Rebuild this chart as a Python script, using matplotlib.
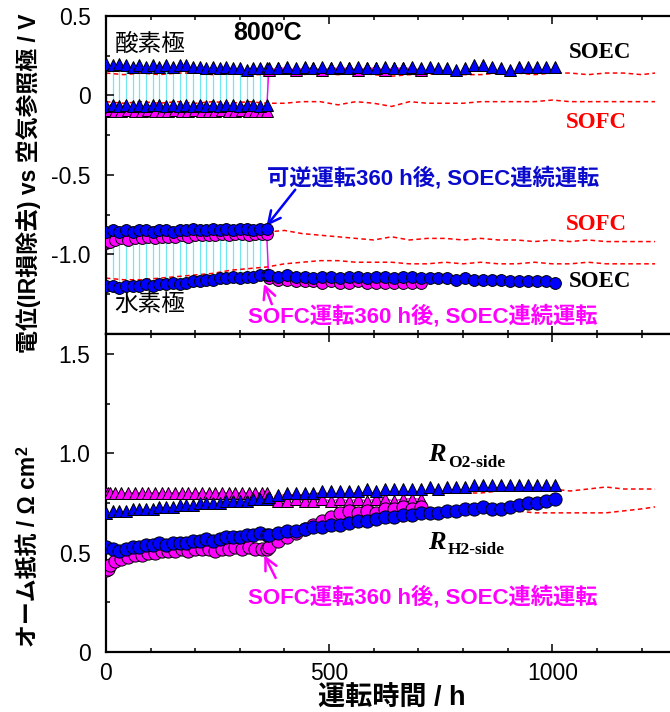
import matplotlib
matplotlib.use("Agg")
import matplotlib.pyplot as plt
from matplotlib.transforms import offset_copy

# ---- data ----
# reversible operation (SOEC/SOFC alternating), 0-360 h
t_rev = [0, 15, 30, 45, 60, 75, 90, 105, 120, 135, 150, 165, 180, 195, 210,
         225, 240, 255, 270, 285, 300, 315, 330, 345, 360]
rev_o2_ec = [0.20, 0.19, 0.20, 0.19, 0.18, 0.19, 0.18, 0.19, 0.18, 0.19, 0.18, 0.19, 0.19,
             0.18, 0.18, 0.17, 0.18, 0.17, 0.18, 0.17, 0.17, 0.16, 0.17, 0.17, 0.17]
rev_o2_fc = [-0.07, -0.06, -0.07, -0.06, -0.07, -0.06, -0.07, -0.06, -0.06, -0.07, -0.06, -0.07, -0.06,
             -0.07, -0.06, -0.07, -0.06, -0.07, -0.06, -0.06, -0.07, -0.06, -0.06, -0.07, -0.06]
rev_h2_fc = [-0.86, -0.85, -0.86, -0.85, -0.86, -0.85, -0.85, -0.86, -0.85, -0.85, -0.86, -0.85, -0.85,
             -0.84, -0.85, -0.85, -0.84, -0.85, -0.84, -0.85, -0.84, -0.84, -0.85, -0.84, -0.84]
rev_h2_ec = [-1.20, -1.20, -1.21, -1.20, -1.20, -1.20, -1.19, -1.20, -1.19, -1.19, -1.18, -1.19, -1.18,
             -1.17, -1.17, -1.16, -1.16, -1.15, -1.15, -1.14, -1.15, -1.14, -1.14, -1.13, -1.13]
rev_r_o2 = [0.70, 0.71, 0.71, 0.71, 0.72, 0.72, 0.72, 0.72, 0.73, 0.73, 0.73, 0.74, 0.74,
            0.74, 0.75, 0.75, 0.75, 0.75, 0.76, 0.76, 0.76, 0.76, 0.77, 0.77, 0.77]
rev_r_h2 = [0.53, 0.52, 0.51, 0.52, 0.53, 0.53, 0.54, 0.54, 0.55, 0.54, 0.55, 0.55, 0.55,
            0.56, 0.56, 0.57, 0.56, 0.57, 0.58, 0.58, 0.58, 0.59, 0.59, 0.60, 0.59]

# continuous SOEC after reversible operation, 365-1005 h
t_cont = [365, 385, 405, 425, 445, 465, 485, 505, 525, 545, 565, 585, 605, 625, 645, 665, 685,
          705, 725, 745, 765, 785, 805, 825, 845, 865, 885, 905, 925, 945, 965, 985, 1005]
cont_o2 = [0.17, 0.17, 0.18, 0.17, 0.18, 0.17, 0.18, 0.17, 0.18, 0.17, 0.18, 0.17, 0.17, 0.18, 0.17, 0.17, 0.18,
           0.17, 0.18, 0.17, 0.17, 0.16, 0.17, 0.19, 0.19, 0.18, 0.17, 0.16, 0.18, 0.18, 0.18, 0.18, 0.18]
cont_h2 = [-1.13, -1.14, -1.13, -1.14, -1.14, -1.15, -1.14, -1.14, -1.15, -1.14, -1.14, -1.15, -1.14, -1.14,
           -1.15, -1.14, -1.14, -1.15, -1.15, -1.15, -1.15, -1.16, -1.15, -1.16, -1.16, -1.16, -1.16, -1.17,
           -1.17, -1.17, -1.17, -1.17, -1.18]
cont_r_o2 = [0.78, 0.79, 0.80, 0.80, 0.80, 0.80, 0.81, 0.81, 0.81, 0.81, 0.81, 0.82, 0.81, 0.82, 0.82, 0.82, 0.82,
             0.82, 0.83, 0.82, 0.83, 0.83, 0.83, 0.84, 0.84, 0.84, 0.84, 0.84, 0.84, 0.84, 0.84, 0.84, 0.84]
cont_r_h2 = [0.59, 0.60, 0.61, 0.61, 0.62, 0.63, 0.63, 0.64, 0.64, 0.65, 0.66, 0.66, 0.67, 0.68, 0.68, 0.69, 0.69,
             0.70, 0.70, 0.70, 0.71, 0.71, 0.72, 0.72, 0.73, 0.72, 0.72, 0.73, 0.74, 0.75, 0.75, 0.76, 0.77]

# SOFC 360 h, then SOEC continuous
t_fc = [0, 5, 10, 20, 35, 50, 65, 80, 95, 110, 125, 140, 155, 170, 185, 200, 215, 230, 245,
        260, 275, 290, 305, 320, 335, 350, 360]
fc_o2 = [-0.10, -0.10, -0.09, -0.10, -0.10, -0.09, -0.10, -0.10, -0.09, -0.10, -0.10, -0.10, -0.09, -0.10,
         -0.10, -0.09, -0.10, -0.10, -0.10, -0.09, -0.10, -0.10, -0.09, -0.10, -0.10, -0.10, -0.10]
fc_h2 = [-0.93, -0.92, -0.92, -0.91, -0.90, -0.91, -0.90, -0.90, -0.89, -0.90, -0.89, -0.89, -0.89, -0.88,
         -0.89, -0.88, -0.88, -0.88, -0.88, -0.87, -0.88, -0.87, -0.87, -0.88, -0.87, -0.87, -0.87]
fc_r_o2 = [0.80, 0.80, 0.80, 0.80, 0.80, 0.80, 0.80, 0.80, 0.80, 0.80, 0.80, 0.80, 0.80, 0.80,
           0.80, 0.80, 0.80, 0.80, 0.80, 0.80, 0.80, 0.80, 0.80, 0.80, 0.80, 0.80, 0.80]
fc_r_h2 = [0.41, 0.42, 0.44, 0.46, 0.47, 0.48, 0.49, 0.49, 0.50, 0.50, 0.51, 0.51, 0.51, 0.52,
           0.51, 0.52, 0.52, 0.52, 0.51, 0.52, 0.52, 0.53, 0.52, 0.53, 0.52, 0.52, 0.52]
t_ec = [365, 385, 405, 425, 445, 465, 485, 505, 525, 545, 565, 585, 605, 625, 645, 665, 685, 705]
ec_o2 = [0.16, 0.17, 0.17, 0.16, 0.17, 0.17, 0.16, 0.17, 0.17, 0.17, 0.16, 0.17, 0.17, 0.16, 0.17, 0.17, 0.17, 0.16]
ec_h2 = [-1.15, -1.16, -1.16, -1.17, -1.17, -1.17, -1.18, -1.17, -1.18, -1.18, -1.17, -1.18, -1.18, -1.18,
         -1.18, -1.18, -1.18, -1.18]
ec_r_o2 = [0.77, 0.76, 0.76, 0.77, 0.76, 0.76, 0.77, 0.76, 0.77, 0.76, 0.77, 0.76, 0.77, 0.77, 0.76, 0.77, 0.77, 0.77]
ec_r_h2 = [0.53, 0.56, 0.58, 0.60, 0.62, 0.64, 0.66, 0.68, 0.70, 0.71, 0.70, 0.71, 0.70, 0.72, 0.72, 0.73, 0.72, 0.73]

# reference cell (red dashed)
ref_t = [0, 40, 80, 120, 160, 200, 240, 280, 320, 360, 400, 440, 480, 520, 560, 600, 640, 680, 720, 760,
         800, 840, 880, 920, 960, 1000, 1040, 1080, 1120, 1160, 1200, 1230]
ref_o2_ec = [0.14, 0.13, 0.14, 0.13, 0.14, 0.14, 0.13, 0.14, 0.13, 0.13, 0.14, 0.13, 0.14, 0.13, 0.14, 0.13,
             0.12, 0.13, 0.13, 0.14, 0.13, 0.13, 0.14, 0.14, 0.13, 0.14, 0.14, 0.13, 0.14, 0.14, 0.13, 0.14]
ref_o2_fc = [-0.04, -0.05, -0.04, -0.05, -0.04, -0.05, -0.04, -0.05, -0.04, -0.05, -0.05, -0.04, -0.04, -0.06,
             -0.04, -0.05, -0.07, -0.04, -0.05, -0.05, -0.05, -0.04, -0.04, -0.04, -0.04, -0.03, -0.04, -0.04,
             -0.04, -0.04, -0.04, -0.04]
ref_h2_ec = [-1.15, -1.16, -1.16, -1.15, -1.14, -1.13, -1.12, -1.10, -1.09, -1.08, -1.06, -1.05, -1.04, -1.04,
             -1.05, -1.05, -1.05, -1.06, -1.06, -1.05, -1.06, -1.05, -1.06, -1.06, -1.05, -1.06, -1.06, -1.05,
             -1.06, -1.06, -1.06, -1.06]
ref_t2 = [360, 400, 440, 480, 520, 560, 600, 640, 680, 720, 760, 800, 840, 880, 920, 960, 1000, 1040,
          1080, 1120, 1160, 1200, 1230]
ref_h2_fc = [-0.86, -0.85, -0.87, -0.88, -0.89, -0.90, -0.91, -0.89, -0.91, -0.90, -0.90, -0.91, -0.90,
             -0.91, -0.91, -0.92, -0.91, -0.92, -0.91, -0.92, -0.92, -0.92, -0.92]
ref_r_o2 = [0.78, 0.79, 0.79, 0.80, 0.80, 0.80, 0.80, 0.79, 0.80, 0.80, 0.80, 0.80, 0.80, 0.81, 0.81, 0.82,
            0.82, 0.81, 0.82, 0.83, 0.82, 0.82, 0.82]
ref_r_h2 = [0.60, 0.61, 0.62, 0.62, 0.63, 0.64, 0.65, 0.65, 0.66, 0.69, 0.70, 0.71, 0.71, 0.71, 0.71, 0.70,
            0.70, 0.70, 0.70, 0.70, 0.71, 0.72, 0.73]

# ---- styles ----
blue = "#0000ff"
magenta = "#ff00ff"
red = "#ff0000"
cyan = "#70e8f0"
jp = ["Liberation Sans", "Noto Sans CJK JP"]
serif = "Liberation Serif"

plt.rcParams["font.family"] = "Liberation Sans"
plt.rcParams["font.size"] = 16

fig = plt.figure(figsize=(6.7, 7.12), dpi=100)
ax1 = fig.add_axes([0.158, 0.5312, 0.853, 0.4466])
ax2 = fig.add_axes([0.158, 0.0843, 0.853, 0.4466])

tri = dict(marker="^", markersize=8.5, markeredgecolor="black", markeredgewidth=0.7, linestyle="none")
cir = dict(marker="o", markersize=8.5, markeredgecolor="black", markeredgewidth=0.7, linestyle="none")
dash = dict(color=red, linestyle=(0, (3, 2.2)), linewidth=1.1, zorder=2)

# ---- top: electrode potentials ----
ax1.vlines(t_rev, rev_o2_fc, rev_o2_ec, color=cyan, linewidth=0.9, zorder=1)
ax1.vlines(t_rev, rev_h2_ec, rev_h2_fc, color=cyan, linewidth=0.9, zorder=1)
ax1.plot(ref_t, ref_o2_ec, **dash)
ax1.plot(ref_t, ref_o2_fc, **dash)
ax1.plot(ref_t, ref_h2_ec, **dash)
ax1.plot(ref_t2, ref_h2_fc, **dash)

ax1.plot(t_fc + t_ec, fc_o2 + ec_o2, color=magenta, linewidth=1, zorder=3)
ax1.plot(t_fc + t_ec, fc_h2 + ec_h2, color=magenta, linewidth=1, zorder=3)
ax1.plot(t_fc + t_ec, fc_o2 + ec_o2, markerfacecolor=magenta, zorder=4, **tri)
ax1.plot(t_fc + t_ec, fc_h2 + ec_h2, markerfacecolor=magenta, zorder=4, **cir)

ax1.plot(t_rev + t_cont, rev_o2_ec + cont_o2, markerfacecolor=blue, zorder=5, **tri)
ax1.plot(t_rev, rev_o2_fc, markerfacecolor=blue, zorder=5, **tri)
ax1.plot(t_rev, rev_h2_fc, markerfacecolor=blue, zorder=5, **cir)
ax1.plot(t_rev + t_cont, rev_h2_ec + cont_h2, markerfacecolor=blue, zorder=5, **cir)

# ---- bottom: ohmic resistance ----
ax2.plot(ref_t2, ref_r_o2, **dash)
ax2.plot(ref_t2, ref_r_h2, **dash)
ax2.plot(t_fc + t_ec, fc_r_o2 + ec_r_o2, color=magenta, linewidth=1, zorder=3)
ax2.plot(t_fc + t_ec, fc_r_o2 + ec_r_o2, markerfacecolor=magenta, zorder=4, **tri)
ax2.plot(t_fc + t_ec, fc_r_h2 + ec_r_h2, markerfacecolor=magenta, zorder=4,
         **dict(cir, markersize=9.5))
ax2.plot(t_rev + t_cont, rev_r_o2 + cont_r_o2, markerfacecolor=blue, zorder=5, **tri)
ax2.plot(t_rev + t_cont, rev_r_h2 + cont_r_h2, markerfacecolor=blue, zorder=5,
         **dict(cir, markersize=9.5))

# ---- axes ----
for ax in (ax1, ax2):
    ax.set_xlim(0, 1280)
    ax.set_xticks([0, 500, 1000])
    ax.set_xticks(range(100, 1300, 100), minor=True)
    ax.spines["right"].set_visible(False)
    for s in ax.spines.values():
        s.set_linewidth(1.6)
    ax.tick_params(which="both", direction="in", top=True, bottom=True, right=False,
                   width=1.1, labelsize=16.5)
    ax.tick_params(which="major", length=6, pad=7)
    ax.tick_params(which="minor", length=3)
    ax.tick_params(axis="y", pad=11)

ax1.set_ylim(-1.5, 0.5)
ax1.set_yticks([0.5, 0, -0.5, -1.0])
ax1.set_yticklabels(["0.5", "0", "-0.5", "-1.0"])
ax1.set_yticks([0.25, -0.25, -0.75, -1.25], minor=True)
ax1.tick_params(axis="x", labelbottom=False)

ax2.set_ylim(0, 1.6)
ax2.set_yticks([0, 0.5, 1.0, 1.5])
ax2.set_yticklabels(["0", "0.5", "1.0", "1.5"])
ax2.set_yticks([0.25, 0.75, 1.25], minor=True)
ax2.set_xticklabels(["0", "500", "1000"])

fig.text(0.584, 0.0, "運転時間 / h", family=jp, fontsize=19.5, fontweight="bold",
         ha="center", va="bottom")
fig.text(0.043, 0.743, "電位(IR損除去) vs 空気参照極 / V", family=jp, fontsize=16.5,
         fontweight="bold", rotation=90, ha="center", va="center")
ylab2 = fig.text(0.043, 0.225, "オーム抵抗 / Ω cm", family=jp, fontsize=16.5,
                 fontweight="bold", rotation=90, ha="center", va="center")
# superscript 2 of cm², placed at the end of the rotated label
fig.canvas.draw()
bb = ylab2.get_window_extent()
fig.text(bb.x0 - 2, bb.y1 + 1, "2", fontsize=11.5, fontweight="bold", rotation=90,
         ha="left", va="bottom", transform=None)

# ---- annotations ----
ax1.text(285, 0.39, "800ºC", fontsize=18, fontweight="bold", va="center")
ax1.text(20, 0.32, "酸素極", family=jp, fontsize=17, va="center")
ax1.text(20, -1.32, "水素極", family=jp, fontsize=17, va="center")
ax1.text(1036, 0.27, "SOEC", family=serif, fontsize=16.5, fontweight="bold", va="center")
ax1.text(1031, -0.17, "SOFC", family=serif, fontsize=16.5, fontweight="bold", color=red, va="center")
ax1.text(1031, -0.81, "SOFC", family=serif, fontsize=16.5, fontweight="bold", color=red, va="center")
ax1.text(1036, -1.17, "SOEC", family=serif, fontsize=16.5, fontweight="bold", va="center")

ax1.text(361, -0.52, "可逆運転360 h後, SOEC連続運転", family=jp, fontsize=16,
         fontweight="bold", color="#0a0acd", va="center")
ax1.annotate("", xy=(356, -0.835), xytext=(428, -0.58),
             arrowprops=dict(arrowstyle="->", color=blue, lw=1.8, mutation_scale=22))
ax1.text(318, -1.39, "SOFC運転360 h後, SOEC連続運転", family=jp, fontsize=16,
         fontweight="bold", color=magenta, va="center")
ax1.annotate("", xy=(352, -1.17), xytext=(374, -1.33),
             arrowprops=dict(arrowstyle="->", color=magenta, lw=1.8, mutation_scale=22))

ax2.text(318, 0.275, "SOFC運転360 h後, SOEC連続運転", family=jp, fontsize=16,
         fontweight="bold", color=magenta, va="center")
ax2.annotate("", xy=(352, 0.50), xytext=(383, 0.36),
             arrowprops=dict(arrowstyle="->", color=magenta, lw=1.8, mutation_scale=22))

for yv, sub in ((0.96, "O2-side"), (0.52, "H2-side")):
    ax2.text(722, yv, "R", family=serif, fontsize=19, fontweight="bold", style="italic",
             va="baseline")
    tr = offset_copy(ax2.transData, fig=fig, x=14, y=-4, units="points")
    ax2.text(722, yv, sub, family=serif, fontsize=12.5, fontweight="bold",
             va="baseline", transform=tr)

fig.savefig("out.png", dpi=100)
